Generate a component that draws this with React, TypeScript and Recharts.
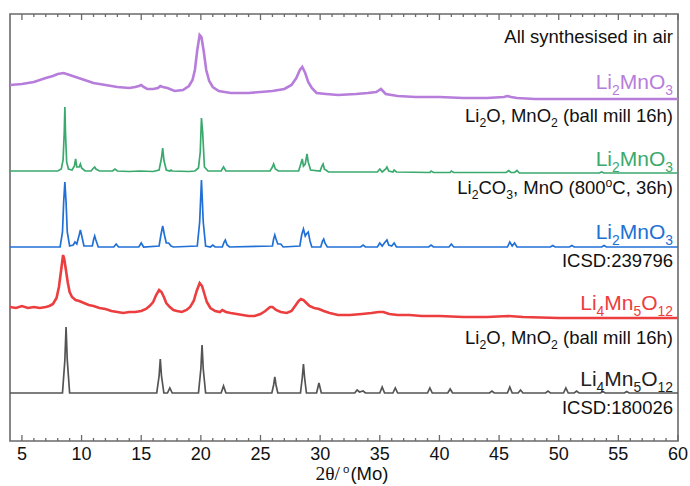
import React from "react";
import { LineChart, Line, XAxis, YAxis, ReferenceArea } from "recharts";

// 2θ ticks (Mo Kα)
const X_MAJOR = [5, 10, 15, 20, 25, 30, 35, 40, 45, 50, 55, 60];
const X_MINOR = [
  6, 7, 8, 9, 11, 12, 13, 14, 16, 17, 18, 19, 21, 22, 23, 24, 26, 27, 28, 29,
  31, 32, 33, 34, 36, 37, 38, 39, 41, 42, 43, 44, 46, 47, 48, 49, 51, 52, 53, 54,
  56, 57, 58, 59,
];

// [2θ, intensity above the trace's own baseline]
const AIR_LI2MNO3: number[][] = [
  [4, 5], [5, 6], [6, 8], [7, 12], [7.6, 14], [8, 16], [8.5, 17], [9, 15], [9.5, 13], [10, 11],
  [11, 7], [12, 5], [13, 3], [14, 2], [14.5, 3], [14.8, 4], [15.0, 5], [15.2, 3], [15.5, 1], [16, 1],
  [16.4, 2], [16.6, 4], [16.8, 3], [17.2, 2], [17.8, -1], [18.5, 0], [19, 4], [19.3, 10], [19.5, 20],
  [19.7, 40], [19.9, 55], [20.05, 53], [20.25, 38], [20.45, 20], [20.7, 9], [21, 3], [21.5, -1],
  [22.5, -3], [24, -3], [25, -2], [26, -1], [27, 1], [27.6, 5], [28, 12], [28.3, 20], [28.5, 23],
  [28.75, 17], [29.0, 8], [29.3, 2], [29.7, -3], [30.5, -4], [31.5, -5], [33, -4], [34, -3],
  [34.7, -2], [35.1, 1], [35.5, -4], [36.5, -6], [38, -7], [40, -7], [42, -8], [44, -8], [45.4, -7],
  [45.7, -6], [46.0, -7], [46.5, -8], [48, -9], [52, -9], [56, -9], [60, -9],
];

const SS_LI2MNO3: number[][] = [
  [4, 1], [7, 1], [8.0, 1], [8.3, 3], [8.45, 12], [8.55, 40], [8.6, 65], [8.65, 40], [8.75, 10],
  [8.9, 3], [9.2, 2], [9.4, 6], [9.5, 13], [9.6, 5], [9.8, 5], [9.9, 8], [10.0, 4], [10.3, 1],
  [10.8, 1], [11.0, 4], [11.1, 5], [11.2, 3], [11.5, 1], [12.6, 1], [12.8, 3], [13.0, 1], [14.0, 0.5],
  [14.9, 1], [16.0, 0.5], [16.5, 2], [16.7, 14], [16.8, 24], [16.9, 12], [17.1, 2], [17.4, 1],
  [17.5, 2], [17.6, 1], [19.0, 0.5], [19.5, 1], [19.8, 4], [19.95, 20], [20.05, 54], [20.15, 40],
  [20.3, 5], [20.6, 1], [21.7, 1], [21.9, 5], [22.1, 1], [24.2, 1], [25.8, 1], [26.0, 5], [26.1, 8],
  [26.25, 3], [26.5, 1], [28.2, 1], [28.4, 9], [28.5, 13], [28.6, 6], [28.75, 8], [28.9, 18],
  [29.0, 10], [29.2, 2], [30.0, 1], [30.15, 6], [30.25, 8], [30.35, 3], [30.7, 0], [33.5, 0],
  [34.8, 0], [35.0, 3], [35.2, 0], [35.5, 3], [35.6, 5], [35.75, 1], [36.1, 0], [36.2, 2], [36.4, 0],
  [39.2, -0.5], [39.3, 1], [39.5, -0.5], [40.9, -0.5], [41.0, 1], [41.2, -0.5], [45.6, -0.5],
  [45.8, 1.5], [46.0, -0.5], [46.3, -0.5], [46.5, 1.5], [46.7, -1], [53.4, -1], [53.6, 0], [53.8, -1],
  [60, -1],
];

const ICSD_239796: number[][] = [
  [4, 0], [8.2, 0], [8.4, 15], [8.5, 45], [8.6, 65], [8.7, 45], [8.8, 15], [9.0, 1], [9.3, 2],
  [9.45, 5], [9.6, 3], [9.8, 12], [9.9, 17], [10.0, 12], [10.2, 1], [10.9, 1], [11.0, 7], [11.1, 11],
  [11.2, 7], [11.4, 0], [12.7, 0], [12.9, 3], [13.1, 0], [14.8, 0], [15.0, 4], [15.2, 0], [16.5, 1],
  [16.65, 12], [16.8, 21], [16.95, 12], [17.1, 4], [17.3, 4], [17.5, 1], [17.7, 0], [19.7, 1],
  [19.9, 25], [20.05, 67], [20.2, 25], [20.4, 1], [20.8, 0], [21.0, 2], [21.2, 0], [21.8, 0],
  [21.95, 5], [22.05, 7], [22.2, 2], [22.4, 0], [26.0, 1], [26.1, 8], [26.2, 12], [26.3, 8],
  [26.45, 3], [26.7, 3], [26.9, 0], [28.3, 1], [28.45, 12], [28.6, 18], [28.75, 11], [28.85, 13],
  [29.0, 15], [29.15, 6], [29.3, 0], [30.05, 0], [30.2, 6], [30.3, 8], [30.4, 4], [30.6, 0],
  [33.4, 0], [33.6, 2], [33.8, 0], [34.8, 0], [35.0, 4], [35.2, 1], [35.45, 5], [35.6, 7], [35.75, 2],
  [36.0, 1], [36.2, 4], [36.4, 0], [39.1, 0], [39.3, 2], [39.5, 0], [40.8, 0], [41.0, 3], [41.2, 0],
  [45.7, 0], [45.9, 5], [46.1, 1], [46.3, 4], [46.5, 0], [49.3, 0], [49.5, 1.5], [49.7, 0],
  [50.9, 0], [51.1, 1.5], [51.3, 0], [53.6, 0], [53.8, 1.5], [54.0, 0], [60, 0],
];

const BM_LI4MN5O12: number[][] = [
  [4, 6], [4.5, 5], [5, 7], [5.5, 5], [6, 6], [6.5, 5], [7, 6], [7.3, 7], [7.6, 9], [7.9, 15],
  [8.1, 26], [8.3, 44], [8.45, 58], [8.55, 54], [8.7, 42], [8.85, 30], [9.0, 21], [9.2, 16],
  [9.5, 13], [9.8, 12], [10.2, 10], [10.6, 8], [11, 7], [11.5, 5], [12, 4], [12.5, 2], [13, 1],
  [13.5, 0], [14, 1], [14.5, 1], [15, 2], [15.4, 4], [15.7, 7], [16, 11], [16.25, 18], [16.5, 23],
  [16.7, 21], [16.9, 16], [17.1, 10], [17.4, 6], [17.7, 3], [18, 2], [18.4, 1], [18.8, 3], [19.1, 6],
  [19.4, 12], [19.65, 22], [19.9, 30], [20.1, 27], [20.3, 19], [20.5, 11], [20.8, 5], [21.2, 2],
  [21.6, 1], [21.8, 3], [22.1, 1], [22.5, 0], [23, -1], [23.5, -2], [24, -3], [24.5, -3], [25, -1],
  [25.4, 2], [25.8, 6], [26.0, 6], [26.3, 3], [26.7, 1], [27.2, 0], [27.6, 2], [27.9, 7], [28.2, 12],
  [28.4, 14], [28.6, 13], [28.85, 10], [29.1, 7], [29.5, 5], [29.9, 4], [30.3, 2], [30.8, 0],
  [31.5, -2], [32.5, -2], [33.5, -1], [34.3, 0], [34.9, 1], [35.3, 1], [35.8, -1], [36.5, -2],
  [37.5, -2], [38.5, -3], [40, -3], [42, -4], [44, -4], [45.8, -3], [47, -4], [50, -5], [53, -5],
  [56, -5], [60, -5],
];

const ICSD_180026: number[][] = [
  [4, 0], [8.4, 0], [8.6, 33], [8.7, 66], [8.8, 33], [9.0, 0], [16.3, 0], [16.5, 17], [16.6, 34],
  [16.7, 17], [16.9, 0], [17.2, 0], [17.4, 5], [17.6, 0], [19.8, 0], [20.0, 24], [20.1, 48],
  [20.2, 24], [20.4, 0], [21.7, 0], [21.9, 7], [22.1, 0], [25.95, 0], [26.1, 8], [26.2, 16],
  [26.3, 8], [26.45, 0], [28.35, 0], [28.5, 15], [28.6, 29], [28.7, 15], [28.85, 0], [29.7, 0],
  [29.9, 10], [30.1, 0], [32.9, 0], [33.1, 3], [33.3, 1], [33.6, 2], [33.8, 0], [35.0, 0], [35.2, 6],
  [35.4, 0], [36.1, 0], [36.3, 5], [36.5, 0], [39.0, 0], [39.2, 5], [39.4, 0], [40.7, 0], [40.9, 4],
  [41.1, 0], [44.2, 0], [44.4, 2], [44.6, 0], [45.7, 0], [45.9, 6], [46.1, 0], [46.6, 0], [46.8, 3],
  [47.0, 0], [48.9, 0], [49.1, 2], [49.3, 0], [50.4, 0], [50.6, 5], [50.8, 0], [51.3, 0], [51.5, 2],
  [51.7, 0], [53.5, 0], [53.7, 1.5], [53.9, 0], [55.5, 0], [55.7, 1.5], [55.9, 0], [60, 0],
];

// vertical stacking offsets (same units as intensity)
const OFFSETS = [351, 269, 194, 128, 48];
const COLORS = ["#b77ddb", "#3aa96d", "#2070d6", "#ec3d3f", "#545454"];
const SERIES = [AIR_LI2MNO3, SS_LI2MNO3, ICSD_239796, BM_LI4MN5O12, ICSD_180026];
const STROKES = [2.6, 1.7, 1.7, 2.6, 1.7];

const W = 690;
const H = 486;
const PLOT_TOP = 14;
const PLOT_BOTTOM = 441;
const FRAME = "#6a6a6a";
const FONT = "'Liberation Sans', Arial, sans-serif";

function toRows(points: number[][], offset: number) {
  return points.map(([x, y]) => ({ x, y: y + offset }));
}

function XTick(props: any) {
  const { x, payload } = props;
  const v = payload.value;
  const major = v % 5 === 0;
  const len = major ? 6 : 3;
  return (
    <g>
      <line x1={x} x2={x} y1={PLOT_BOTTOM} y2={PLOT_BOTTOM - len} stroke={FRAME} strokeWidth={1.3} />
      <line x1={x} x2={x} y1={PLOT_TOP} y2={PLOT_TOP + len} stroke={FRAME} strokeWidth={1.3} />
      {major && (
        <text x={x} y={PLOT_BOTTOM + 19} textAnchor="middle" fontSize={18} fontFamily={FONT} fill="#111">
          {v}
        </text>
      )}
    </g>
  );
}

type Part = [string, ("sub" | "sup")?];

const LABELS: { y: number; color: string; size: number; parts: Part[] }[] = [
  { y: 43, color: "#111", size: 18.5, parts: [["All synthesised in air"]] },
  { y: 89, color: COLORS[0], size: 21, parts: [["Li"], ["2", "sub"], ["MnO"], ["3", "sub"]] },
  { y: 122, color: "#111", size: 18.5, parts: [["Li"], ["2", "sub"], ["O, MnO"], ["2", "sub"], [" (ball mill 16h)"]] },
  { y: 166, color: COLORS[1], size: 21, parts: [["Li"], ["2", "sub"], ["MnO"], ["3", "sub"]] },
  { y: 194, color: "#111", size: 18.5, parts: [["Li"], ["2", "sub"], ["CO"], ["3", "sub"], [", MnO (800"], ["o", "sup"], ["C, 36h)"]] },
  { y: 239, color: COLORS[2], size: 21, parts: [["Li"], ["2", "sub"], ["MnO"], ["3", "sub"]] },
  { y: 267, color: "#111", size: 18.5, parts: [["ICSD:239796"]] },
  { y: 310, color: COLORS[3], size: 21, parts: [["Li"], ["4", "sub"], ["Mn"], ["5", "sub"], ["O"], ["12", "sub"]] },
  { y: 344, color: "#111", size: 18.5, parts: [["Li"], ["2", "sub"], ["O, MnO"], ["2", "sub"], [" (ball mill 16h)"]] },
  { y: 386, color: "#222", size: 21, parts: [["Li"], ["4", "sub"], ["Mn"], ["5", "sub"], ["O"], ["12", "sub"]] },
  { y: 414, color: "#111", size: 18.5, parts: [["ICSD:180026"]] },
];

function RichText({ y, color, size, parts }: { y: number; color: string; size: number; parts: Part[] }) {
  let shift = 0;
  const spans = parts.map(([t, kind], i) => {
    const target = kind === "sub" ? size * 0.28 : kind === "sup" ? -size * 0.38 : 0;
    const dy = target - shift;
    shift = target;
    return (
      <tspan key={i} dy={dy} fontSize={kind ? size * 0.66 : size}>
        {t}
      </tspan>
    );
  });
  return (
    <text x={673} y={y} textAnchor="end" fill={color} fontFamily={FONT} fontSize={size}>
      {spans}
    </text>
  );
}

export default function App() {
  const ticks = [...X_MAJOR, ...X_MINOR].sort((a, b) => a - b);
  return (
    <div style={{ position: "absolute", left: 0, top: 0, width: W, height: H, background: "#fff" }}>
      <LineChart width={W} height={H} margin={{ top: PLOT_TOP, right: 12, left: 10, bottom: 0 }}>
        <XAxis
          dataKey="x"
          type="number"
          domain={[4, 60]}
          ticks={ticks}
          interval={0}
          allowDataOverflow
          height={H - PLOT_BOTTOM}
          axisLine={false}
          tickLine={false}
          tickSize={0}
          tickMargin={0}
          tick={(p: any) => <XTick {...p} />}
        />
        <YAxis type="number" domain={[0, PLOT_BOTTOM - PLOT_TOP]} hide width={0} allowDataOverflow />
        <ReferenceArea x1={4} x2={60} y1={0} y2={PLOT_BOTTOM - PLOT_TOP} fill="none" stroke={FRAME} strokeWidth={1.6} />
        {SERIES.map((s, i) => (
          <Line
            key={i}
            data={toRows(s, OFFSETS[i])}
            dataKey="y"
            type="linear"
            stroke={COLORS[i]}
            strokeWidth={STROKES[i]}
            dot={false}
            isAnimationActive={false}
          />
        ))}
      </LineChart>
      <svg width={W} height={H} style={{ position: "absolute", left: 0, top: 0, pointerEvents: "none" }}>
        {LABELS.map((l, i) => (
          <RichText key={i} {...l} />
        ))}
        <text x={352} y={480} textAnchor="middle" fontSize={18.5} fontFamily={FONT} fill="#111">
          <tspan fontFamily="'Liberation Serif', 'Times New Roman', serif" fontSize={19.5}>2θ/</tspan>
          <tspan dx={3} dy={-7} fontSize={11.5}>o</tspan>
          <tspan dx={1} dy={7}>(Mo)</tspan>
        </text>
      </svg>
    </div>
  );
}
